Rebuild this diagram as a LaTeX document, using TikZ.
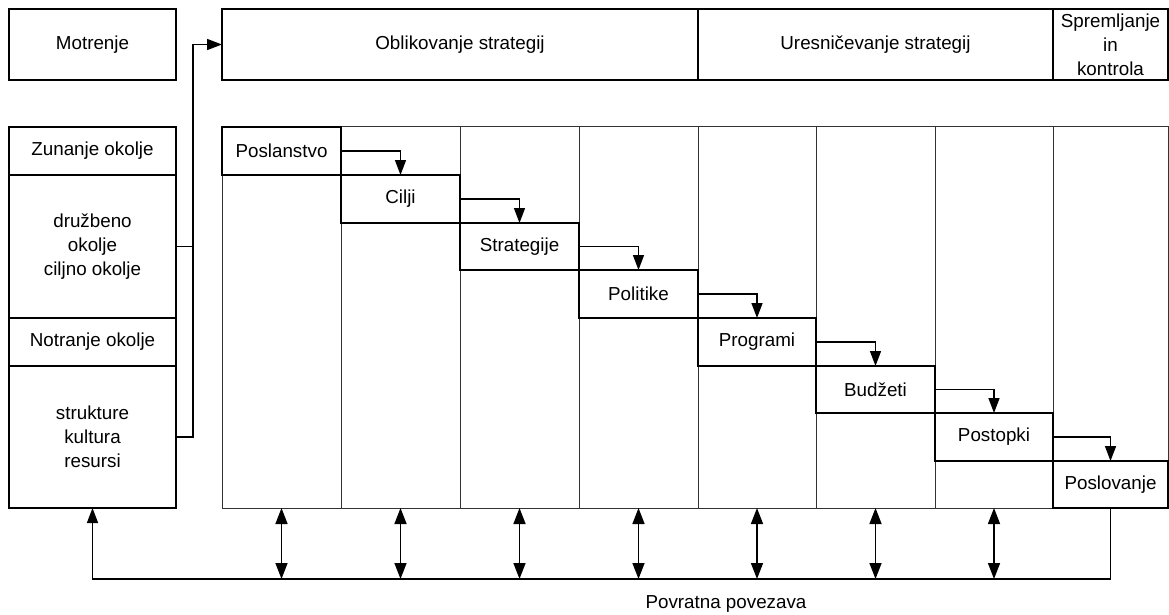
\documentclass[tikz,border=0pt]{standalone}
\usepackage{fontspec}
\setmainfont{Liberation Sans}
\usetikzlibrary{arrows.meta}
\begin{document}
\begin{tikzpicture}[x=1pt,y=-1pt,
  box/.style={draw, line width=1.8pt, inner sep=0pt, outer sep=0pt,
    font=\fontsize{18.8}{24}\selectfont, align=center},
  column/.style={draw=black!80, line width=1pt, inner sep=0pt, outer sep=0pt},
  link/.style={line width=1.5pt},
  flow/.style={link, -{Triangle[length=15pt,width=11pt]}},
  both/.style={link, {Triangle[length=16pt,width=12pt]}-{Triangle[length=16pt,width=12pt]}}]

\useasboundingbox (0,0) rectangle (1169,615);

% phase headings
\node[box, minimum width=167, minimum height=71] (mot) at (92.5,44.5) {Motrenje};
\node[box, minimum width=476, minimum height=71] (obl) at (460,44.5) {Oblikovanje strategij};
\node[box, minimum width=355, minimum height=71] (ure) at (875.5,44.5) {Uresničevanje strategij};
\node[box, minimum width=115, minimum height=71] (spr) at (1110.5,44.5) {Spremljanje\\in\\kontrola};

% environment column
\node[box, minimum width=167, minimum height=48]  (zun) at (92.5,151) {Zunanje okolje};
\node[box, minimum width=167, minimum height=143] (dru) at (92.5,246.5) {družbeno\\okolje\\ciljno okolje};
\node[box, minimum width=167, minimum height=48]  (not) at (92.5,342) {Notranje okolje};
\node[box, minimum width=167, minimum height=142] (str) at (92.5,437) {strukture\\kultura\\resursi};

% process columns
\foreach \i/\a/\b in {1/222/341, 2/341/460, 3/460/579, 4/579/698,
                      5/698/816, 6/816/935, 7/935/1053, 8/1053/1168} {
  \node[column, minimum width=\b-\a, minimum height=381] (col\i) at ({(\a+\b)/2},317.5) {};
}

% process steps
\foreach \i/\a/\b/\t/\u/\name in {
    1/222/341/127/175/Poslanstvo,
    2/341/460/175/223/Cilji,
    3/460/579/223/270/Strategije,
    4/579/698/270/318/Politike,
    5/698/816/318/366/Programi,
    6/816/935/366/413/Budžeti,
    7/935/1053/413/461/Postopki,
    8/1053/1168/461/508/Poslovanje} {
  \node[box, fill=white, minimum width=\b-\a, minimum height=\u-\t]
    (s\i) at ({(\a+\b)/2},{(\t+\u)/2}) {\name};
}

% step-to-step arrows
\foreach \i [evaluate=\i as \j using int(\i+1)] in {1,...,7} {
  \draw[flow] (s\i.east) -| (s\j.north);
}

% environment feeds strategy formulation
\coordinate (jx) at (193,0);
\draw[flow] (str.east) -- (str.east -| jx) |- (obl.west);
\draw[link] (dru.east) -- (dru.east -| jx);

% feedback loop
\coordinate (fb) at (0,579);
\foreach \i in {1,...,7} {
  \draw[both] (col\i.south) -- (col\i.south |- fb);
}
\draw[flow] (s8.south) -- (s8.south |- fb) -| (str.south);
\node[font=\fontsize{18.8}{24}\selectfont, anchor=base] (fbl) at (726,608) {Povratna povezava};

\end{tikzpicture}
\end{document}
